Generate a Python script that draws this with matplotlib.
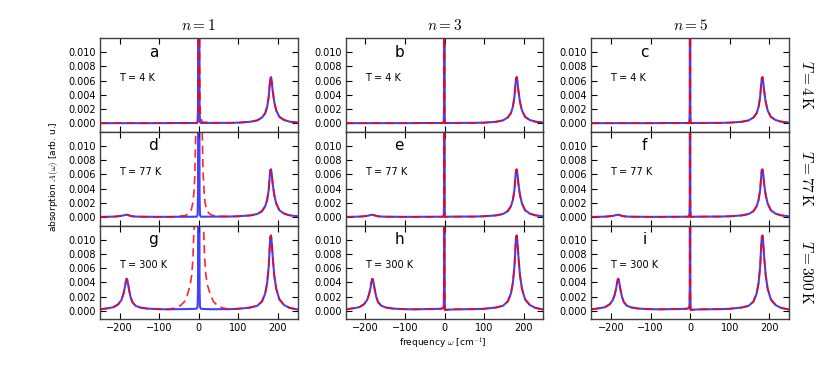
import matplotlib
matplotlib.use("Agg")
import matplotlib.pyplot as plt
from matplotlib.ticker import FormatStrFormatter

# values
temps = [4, 77, 300]
n_values = [1, 3, 5]
panel_letters = ["a", "b", "c", "d", "e", "f", "g", "h", "i"]

# side peaks (same for all n), left peak near -183 and right peak near 182 cm^-1
omega_left = [-250, -230, -216, -204, -196, -191, -187, -185, -183, -181,
              -179, -177, -173, -168, -160, -148, -130, -100, -75]
left_4K = [0.00001, 0.00001, 0.00001, 0.00001, 0.00001, 0.00001, 0.00001, 0.00001, 0.00001, 0.00001,
           0.00001, 0.00001, 0.00001, 0.00001, 0.00001, 0.00001, 0.00001, 0.00001, 0.00002]
left_77K = [0.00001, 0.00003, 0.00005, 0.0001, 0.00016, 0.00022, 0.00028, 0.0003, 0.00032, 0.0003,
            0.00027, 0.00023, 0.00016, 0.0001, 0.00006, 0.00004, 0.00003, 0.00002, 0.00002]
left_300K = [0.0002, 0.00035, 0.0005, 0.0009, 0.0015, 0.0023, 0.0033, 0.0040, 0.0045, 0.0044,
             0.0038, 0.0031, 0.0020, 0.0012, 0.0007, 0.00045, 0.0003, 0.00022, 0.0002]

omega_right = [75, 100, 130, 148, 160, 168, 173, 177, 179, 181,
               183, 185, 187, 191, 196, 204, 216, 230, 250]
right_4K = [0.00005, 0.00008, 0.0002, 0.0004, 0.0008, 0.0014, 0.0023, 0.0037, 0.0051, 0.0063,
            0.0065, 0.0057, 0.0046, 0.0030, 0.0018, 0.0009, 0.00045, 0.00022, 0.0001]
right_77K = [0.00006, 0.0001, 0.00022, 0.00042, 0.00082, 0.0015, 0.0024, 0.0038, 0.0053, 0.0066,
             0.0067, 0.0059, 0.0047, 0.0031, 0.0019, 0.00095, 0.00047, 0.00023, 0.0001]
right_300K = [0.00022, 0.00028, 0.00045, 0.0007, 0.0013, 0.0024, 0.0039, 0.0062, 0.0084, 0.0104,
              0.0106, 0.0094, 0.0077, 0.0050, 0.0031, 0.0016, 0.0008, 0.0004, 0.00018]

# central line, n = 3 and n = 5 (blue and red coincide)
omega_narrow = [-60, -30, -10, -4, -2, -1.2, -0.8, -0.3, 0.3, 1, 2, 4, 10, 30, 60]
narrow_4K = [0.00003, 0.00003, 0.00003, 0.00004, 0.00006, 0.002, 0.05, 0.05, 0.002, 0.00002,
             0.00002, 0.00002, 0.00003, 0.00004, 0.00005]
narrow_77K = [0.00003, 0.00003, 0.00004, 0.00005, 0.00008, 0.002, 0.05, 0.05, 0.002, 0.00002,
              0.00002, 0.00003, 0.00004, 0.00005, 0.00006]
narrow_300K = [0.00022, 0.00024, 0.00028, 0.00035, 0.0005, 0.003, 0.05, 0.05, 0.003, 0.0001,
               0.0001, 0.00013, 0.00016, 0.0002, 0.00022]

# central line, n = 1, blue (slightly broader spike)
omega_n1_blue = [-60, -30, -10, -5, -3, -2, -1, 0, 1, 2, 3, 5, 10, 30, 60]
n1_blue_4K = [0.00003, 0.00003, 0.00003, 0.00004, 0.0002, 0.002, 0.03, 0.06, 0.03, 0.002,
              0.0002, 0.00004, 0.00003, 0.00004, 0.00005]
n1_blue_77K = [0.00003, 0.00003, 0.00004, 0.00005, 0.0003, 0.003, 0.03, 0.06, 0.03, 0.003,
               0.0003, 0.00005, 0.00004, 0.00005, 0.00006]
n1_blue_300K = [0.00022, 0.00024, 0.00027, 0.0003, 0.0006, 0.003, 0.03, 0.06, 0.03, 0.003,
                0.0006, 0.0003, 0.00025, 0.00022, 0.00022]

# central line, n = 1, red dashed
omega_n1_red_4K = [-60, -30, -10, -4, -2, -1, 0, 1, 2, 3, 4, 6, 8, 12, 18, 25, 32, 40, 60]
n1_red_4K = [0.00003, 0.00003, 0.00004, 0.00006, 0.0002, 0.004, 0.05, 0.03, 0.008, 0.003,
             0.0014, 0.0006, 0.0003, 0.0001, 0.00015, 0.0002, 0.00012, 0.00006, 0.00005]
omega_n1_red_77K = [-60, -34, -25, -19, -15, -12, -10, -8, -4, 0, 4, 9, 11, 13.5, 16, 20, 26, 35, 60]
n1_red_77K = [0.00005, 0.0002, 0.0005, 0.001, 0.002, 0.0036, 0.006, 0.011, 0.025, 0.05,
              0.03, 0.011, 0.006, 0.0036, 0.002, 0.001, 0.0005, 0.0002, 0.00008]
omega_n1_red_300K = [-60, -46, -36, -29, -22, -18, -15, -12.5, -7, 0, 7, 12.5, 15, 18, 22, 30, 37, 47, 60]
n1_red_300K = [0.0004, 0.00075, 0.0013, 0.0022, 0.0036, 0.005, 0.0072, 0.011, 0.016, 0.03,
               0.016, 0.011, 0.0072, 0.005, 0.0036, 0.0022, 0.0013, 0.00075, 0.0004]

left_by_T = [left_4K, left_77K, left_300K]
right_by_T = [right_4K, right_77K, right_300K]
narrow_by_T = [narrow_4K, narrow_77K, narrow_300K]
n1_blue_by_T = [n1_blue_4K, n1_blue_77K, n1_blue_300K]
n1_red_by_T = [(omega_n1_red_4K, n1_red_4K), (omega_n1_red_77K, n1_red_77K),
               (omega_n1_red_300K, n1_red_300K)]

plt.rcParams["mathtext.fontset"] = "cm"
plt.rcParams["xtick.direction"] = "in"
plt.rcParams["ytick.direction"] = "in"
plt.rcParams["xtick.top"] = True
plt.rcParams["ytick.right"] = True
plt.rcParams["xtick.major.size"] = 4
plt.rcParams["ytick.major.size"] = 4

fig, axes = plt.subplots(3, 3, figsize=(8.3, 3.81), dpi=100)
fig.subplots_adjust(left=0.1205, right=0.9506, top=0.9003, bottom=0.162,
                    wspace=0.244, hspace=0)

for i, T in enumerate(temps):
    for j, n in enumerate(n_values):
        ax = axes[i, j]
        if n == 1:
            x_blue = omega_left + omega_n1_blue + omega_right
            y_blue = left_by_T[i] + n1_blue_by_T[i] + right_by_T[i]
            x_red = omega_left + n1_red_by_T[i][0] + omega_right
            y_red = left_by_T[i] + n1_red_by_T[i][1] + right_by_T[i]
        else:
            x_blue = omega_left + omega_narrow + omega_right
            y_blue = left_by_T[i] + narrow_by_T[i] + right_by_T[i]
            x_red, y_red = x_blue, y_blue

        ax.plot(x_blue, y_blue, color="#2020ff", lw=1.5, alpha=0.85)
        ax.plot(x_red, y_red, color="red", lw=1.2, ls="--", dashes=(5, 3), alpha=0.85)

        ax.set_xlim(-250, 250)
        ax.set_ylim(-0.0012, 0.012)
        ax.set_xticks([-200, -100, 0, 100, 200])
        ax.set_yticks([0, 0.002, 0.004, 0.006, 0.008, 0.010])
        ax.yaxis.set_major_formatter(FormatStrFormatter("%.3f"))
        ax.tick_params(labelsize=7, pad=3)
        for s in ax.spines.values():
            s.set_color("0.25")
            s.set_linewidth(1.0)
        if i < 2:
            ax.tick_params(labelbottom=False)

        ax.text(0.27, 0.85, panel_letters[i * 3 + j], transform=ax.transAxes,
                fontsize=11, ha="center", va="center")
        ax.text(0.096, 0.574, "T = %d K" % T, transform=ax.transAxes,
                fontsize=7, ha="left", va="center")

        if i == 0:
            ax.set_title("$n=%d$" % n, fontsize=11, pad=6)
        if j == 2:
            ax.text(1.09, 0.5, r"$T=%d\,\mathrm{K}$" % T, transform=ax.transAxes,
                    rotation=-90, fontsize=11, ha="center", va="center")

fig.text(54 / 830, 1 - 177 / 381, r"absorption $A(\omega)$ [arb. u.]",
         rotation=90, fontsize=6.5, ha="center", va="center")
fig.text(443 / 830, 1 - 343 / 381, r"frequency $\omega$ [cm$^{-1}$]",
         fontsize=6.5, ha="center", va="center")

fig.savefig("out.png", dpi=100)
